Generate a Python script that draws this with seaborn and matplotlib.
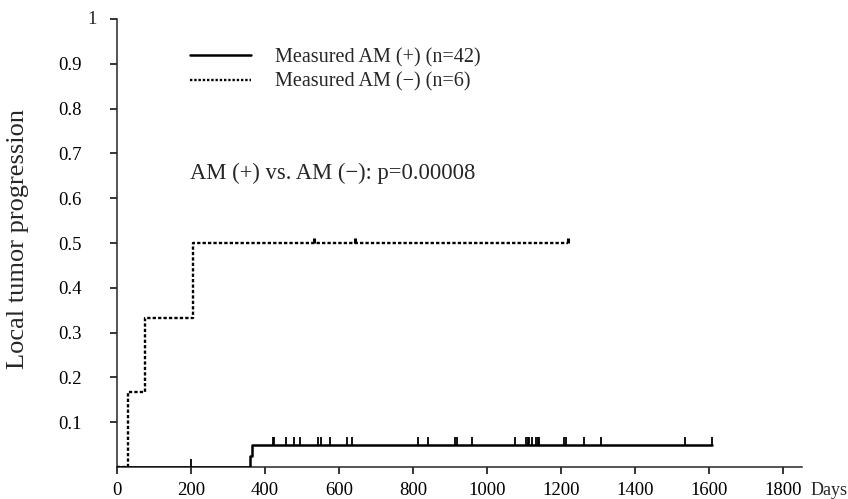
import numpy as np
import pandas as pd
import seaborn as sns
import matplotlib
matplotlib.use("Agg")
import matplotlib.pyplot as plt
from matplotlib.lines import Line2D
from matplotlib.markers import TICKUP

# ---- data ----
pos_times = [0, 360, 364, 1607]
pos_values = [0.0, 0.0244, 0.0488, 0.0488]
pos_censor = [199, 420, 425, 456, 478, 493, 542, 551, 576, 621, 635,
              812, 841, 914, 919, 959, 1076, 1105, 1110, 1114, 1121,
              1131, 1136, 1140, 1207, 1213, 1260, 1306, 1535, 1607]

neg_times = [0, 30, 76, 204, 1219]
neg_values = [0.0, 1 / 6, 1 / 3, 0.5, 0.5]
neg_censor = [532, 643, 1219]

x_ticks = [0, 200, 400, 600, 800, 1000, 1200, 1400, 1600, 1800]
y_ticks = [0.1, 0.2, 0.3, 0.4, 0.5, 0.6, 0.7, 0.8, 0.9, 1.0]
y_tick_labels = ["0.1", "0.2", "0.3", "0.4", "0.5", "0.6", "0.7", "0.8", "0.9", "1"]

label_pos = "Measured AM (+) (n=42)"
label_neg = "Measured AM (\u2212) (n=6)"
annotation = "AM (+) vs. AM (\u2212): p=0.00008"

# ---- style ----
sns.set_style("ticks")
plt.rcParams["font.family"] = ["Liberation Serif", "DejaVu Serif"]
plt.rcParams["axes.linewidth"] = 1.1

W, H = 848, 499
fig = plt.figure(figsize=(W / 100, H / 100), dpi=100)
ax_w = (802 - 117) / W
ax = fig.add_axes([117 / W, 1 - 467 / H, ax_w, (467 - 19) / H])

df_pos = pd.DataFrame({"days": pos_times, "value": pos_values})
df_neg = pd.DataFrame({"days": neg_times, "value": neg_values})

sns.lineplot(data=df_pos, x="days", y="value", ax=ax, color="black",
             linewidth=1.8, drawstyle="steps-post", estimator=None,
             sort=False, zorder=3)
sns.lineplot(data=df_neg, x="days", y="value", ax=ax, color="black",
             linewidth=1.7, linestyle=(0, (1.4, 0.9)), drawstyle="steps-post",
             estimator=None, sort=False, zorder=3)


def step_value(times, values, t):
    i = np.searchsorted(times, t, side="right") - 1
    return values[max(i, 0)]


pc_y = [step_value(pos_times, pos_values, t) for t in pos_censor]
nc_y = [step_value(neg_times, neg_values, t) for t in neg_censor]
ax.plot(pos_censor, pc_y, linestyle="none", marker=TICKUP, markersize=5.5,
        markeredgewidth=1.3, color="black", zorder=4)
ax.plot(neg_censor, nc_y, linestyle="none", marker=TICKUP, markersize=3.5,
        markeredgewidth=2.2, color="black", zorder=4)

ax.set_xlim(0, 1850)
ax.set_ylim(0, 1)
ax.set_xticks(x_ticks)
ax.set_xticklabels([str(v) for v in x_ticks])
ax.set_yticks(y_ticks)
# the top label "1" sits further right in the reference; it is drawn separately
ax.set_yticklabels(y_tick_labels[:-1] + [""])
ax.tick_params(axis="both", direction="out", length=5, width=1.1,
               labelsize=13.5, colors="black")
ax.tick_params(axis="y", pad=20.5)
ax.tick_params(axis="x", pad=6)
ax.text(-(117 - 97) / 685, y_ticks[-1], y_tick_labels[-1],
        transform=ax.get_yaxis_transform(), ha="right", va="center",
        fontsize=13.5)
sns.despine(ax=ax)
ax.set_xlabel("")
ax.set_ylabel("Local tumor progression", fontsize=19)
ax.yaxis.set_label_coords(-(117 - 29) / 685, 0.51)

ax.text(1.012, -0.052, "Days", transform=ax.transAxes, ha="left", va="center",
        fontsize=13)

handles = [Line2D([0], [0], color="black", linewidth=1.8),
           Line2D([0], [0], color="black", linewidth=1.7,
                  linestyle=(0, (1.0, 0.8)))]
ax.legend(handles, [label_pos, label_neg], loc="upper left",
          bbox_to_anchor=(0.107, 0.935), frameon=False, fontsize=14.5,
          handlelength=3.0, handletextpad=1.2, labelspacing=0.25,
          borderpad=0, borderaxespad=0)

ax.text(197, 0.655, annotation, ha="left", va="center", fontsize=16.3)

fig.savefig("out.png", dpi=100)
